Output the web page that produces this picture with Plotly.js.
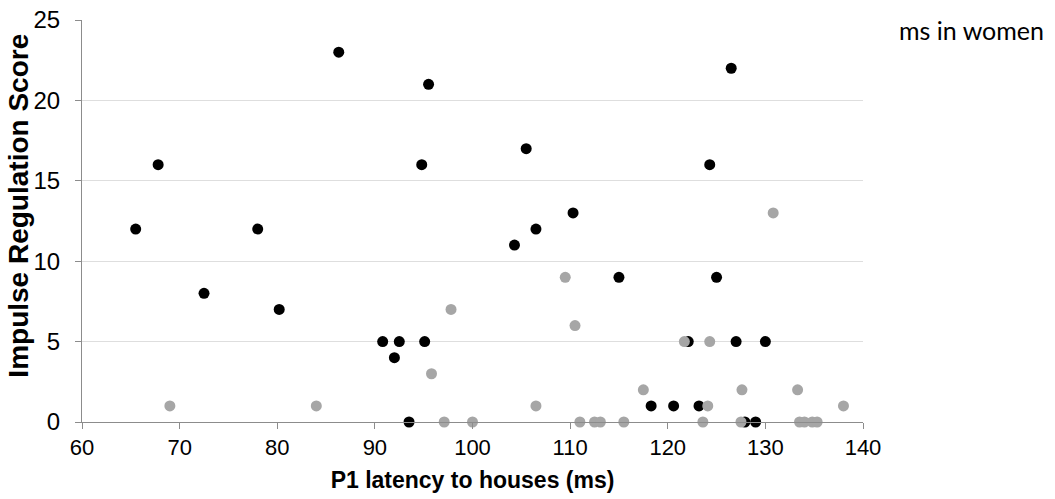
<!DOCTYPE html>
<html>
<head>
<meta charset="utf-8">
<script src="https://cdn.plot.ly/plotly-3.0.1.min.js"></script>
<style>
html,body{margin:0;padding:0;background:#fff;}
#chart{width:1055px;height:499px;}
</style>
</head>
<body>
<div id="chart"></div>
<script>
// Black series (latency ms, score)
const blackX = [65.5, 67.8, 72.5, 78.0, 80.2, 86.3, 90.8, 92.0, 92.5, 93.5, 94.8, 95.1, 95.5,
  104.3, 105.5, 106.5, 110.3, 115.0, 118.3, 120.6, 122.1, 123.2, 124.3, 125.0, 126.5, 127.0, 127.9, 129.0, 130.0];
const blackY = [12, 16, 8, 12, 7, 23, 5, 4, 5, 0, 16, 5, 21,
  11, 17, 12, 13, 9, 1, 1, 5, 1, 16, 9, 22, 5, 0, 0, 5];

// Gray series
const grayX = [69.0, 84.0, 95.8, 97.1, 97.8, 100.0, 106.5, 109.5, 110.5, 111.0, 112.5, 113.1, 115.5,
  117.5, 121.7, 123.6, 124.1, 124.3, 127.5, 127.6, 130.8, 133.3, 133.5, 134.0, 134.8, 135.3, 138.0];
const grayY = [1, 1, 3, 0, 7, 0, 1, 9, 6, 0, 0, 0, 0,
  2, 5, 0, 1, 5, 0, 2, 13, 2, 0, 0, 0, 0, 1];

const xTicks = [60, 70, 80, 90, 100, 110, 120, 130, 140];
const yTicks = [0, 5, 10, 15, 20, 25];

const xTitle = 'P1 latency to houses (ms)';
const yTitle = 'Impulse Regulation Score';
const cornerText = 'ms in women';

const traces = [
  {x: blackX, y: blackY, type: 'scatter', mode: 'markers', cliponaxis: false,
   marker: {color: '#000000', size: 11}, showlegend: false},
  {x: grayX, y: grayY, type: 'scatter', mode: 'markers', cliponaxis: false,
   marker: {color: '#a6a6a6', size: 11}, showlegend: false}
];

const layout = {
  width: 1055, height: 499,
  margin: {l: 82, r: 192, t: 20, b: 77, pad: 0},
  paper_bgcolor: '#ffffff', plot_bgcolor: '#ffffff',
  font: {family: 'Liberation Sans, Arial, sans-serif', color: '#000'},
  showlegend: false,
  xaxis: {
    range: [60, 140], tickvals: xTicks, ticktext: xTicks.map(String),
    showgrid: false, zeroline: false,
    showline: true, linecolor: '#8c8c8c', linewidth: 1,
    ticks: 'outside', ticklen: 6, tickcolor: '#8c8c8c',
    tickfont: {size: 22, color: '#000'},
    title: {text: '<b>' + xTitle + '</b>', font: {size: 23, color: '#000'}, standoff: 12}
  },
  yaxis: {
    range: [0, 25], tickvals: yTicks, ticktext: yTicks.map(String),
    showgrid: true, gridcolor: '#dedede', gridwidth: 1, zeroline: false,
    showline: true, linecolor: '#8c8c8c', linewidth: 1,
    ticks: 'outside', ticklen: 6, tickcolor: '#8c8c8c',
    ticklabelstandoff: 10,
    tickfont: {size: 24, color: '#000'}
  },
  annotations: [{
    xref: 'paper', yref: 'paper', x: 1.044, y: 0.975, xanchor: 'left', yanchor: 'middle',
    text: cornerText, showarrow: false,
    font: {family: 'Lato, Open Sans, sans-serif', size: 25, color: '#000'}
  }, {
    xref: 'paper', yref: 'paper', x: -0.0813, y: 0.537, xanchor: 'center', yanchor: 'middle',
    text: '<b>' + yTitle + '</b>', textangle: -90, showarrow: false,
    font: {size: 28, color: '#000'}
  }]
};

Plotly.newPlot('chart', traces, layout, {displayModeBar: false, staticPlot: true});
</script>
</body>
</html>
